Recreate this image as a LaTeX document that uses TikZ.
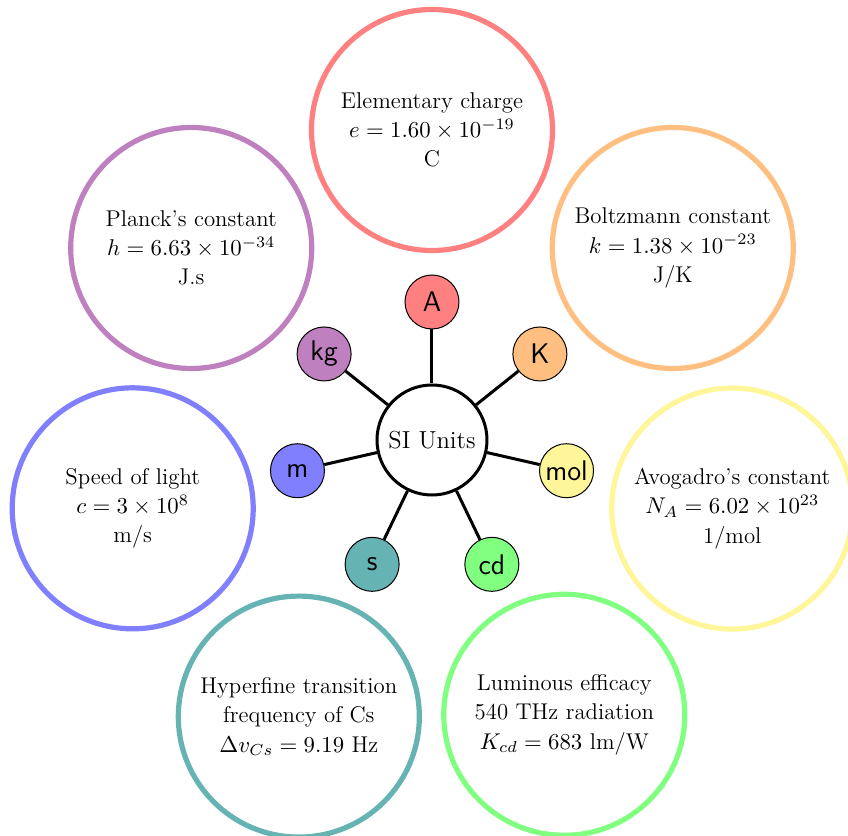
\documentclass[tikz,border=0pt]{standalone}
\usepackage{fix-cm}
\usetikzlibrary{calc}
\definecolor{cA}{RGB}{255,128,128}
\definecolor{cK}{RGB}{255,191,128}
\definecolor{cMol}{RGB}{255,245,153}
\definecolor{cCd}{RGB}{128,255,128}
\definecolor{cS}{RGB}{102,179,179}
\definecolor{cM}{RGB}{128,128,255}
\definecolor{cKg}{RGB}{191,128,191}
\begin{document}
\begin{tikzpicture}[
  hub/.style={circle, draw, line width=1.5pt, minimum size=55pt, inner sep=0pt, fill=white,
    font=\fontsize{12.3}{14}\selectfont},
  unitbox/.style={circle, draw=black, line width=0.5pt, minimum size=27pt, inner sep=0pt, fill=#1,
    font=\sffamily\fontsize{14.2}{16}\selectfont},
  constbox/.style={circle, draw=#1, line width=2.6pt, minimum size=120.5pt, inner sep=0pt, fill=white,
    align=center, font=\fontsize{11.4}{14.6}\selectfont},
  spoke/.style={line width=1.5pt}
]
\useasboundingbox (-216pt,-198pt) rectangle (208pt,220pt);
\clip (-216pt,-198pt) rectangle (208pt,220pt);
\node[hub] (C) at (0,0) {SI Units};
\node[unitbox=cA]   (uA)   at (90:69pt) {A};
\node[unitbox=cK]   (uK)   at (38.57:69pt) {K};
\node[unitbox=cMol] (uMol) at (-12.86:69pt) {mol};
\node[unitbox=cCd]  (uCd)  at (-64.29:69pt) {cd};
\node[unitbox=cS]   (uS)   at (-115.71:69pt) {s};
\node[unitbox=cM]   (uM)   at (-167.14:69pt) {m};
\node[unitbox=cKg]  (uKg)  at (141.43:69pt) {kg};
\foreach \n in {uA,uK,uMol,uCd,uS,uM,uKg} \draw[spoke] (C) -- (\n);
\node[constbox=cA]   (bA)   at (90:155pt) {Elementary charge\\$e = 1.60\times10^{-19}$\\C};
\node[constbox=cK]   (bK)   at (38.57:154pt) {Boltzmann constant\\$k = 1.38\times10^{-23}$\\J/K};
\node[constbox=cMol] (bMol) at (-12.86:154pt) {Avogadro's constant\\$N_A = 6.02\times10^{23}$\\1/mol};
\node[constbox=cCd]  (bCd)  at (-64.29:152.5pt) {Luminous efficacy\\540 THz radiation\\$K_{cd} = 683$ lm/W};
\node[constbox=cS]   (bS)   at (-115.71:153.5pt) {Hyperfine transition\\frequency of Cs\\$\Delta v_{Cs} = 9.19$ Hz};
\node[constbox=cM]   (bM)   at (-167.14:153.5pt) {Speed of light\\$c = 3\times10^{8}$\\m/s};
\node[constbox=cKg]  (bKg)  at (141.43:154pt) {Planck's constant\\$h = 6.63\times10^{-34}$\\J.s};
\end{tikzpicture}
\end{document}
